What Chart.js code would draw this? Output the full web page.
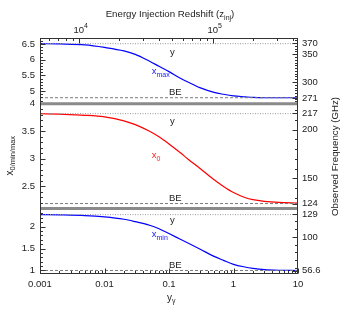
<!DOCTYPE html>
<html><head><meta charset="utf-8">
<script src="https://cdn.jsdelivr.net/npm/chart.js@4"></script>
<style>html,body{margin:0;padding:0;background:#fff}canvas{display:block}</style>
</head><body>
<canvas id="c" width="346" height="314"></canvas>
<script>
// ---- data ----
const yGamma   = [0.001,0.002,0.005,0.01,0.02,0.03,0.05,0.07,0.1,0.15,0.2,0.3,0.5,0.7,1,1.5,2,3,5,10];
const xMaxVals = [6.51,6.50,6.47,6.39,6.28,6.17,5.95,5.79,5.62,5.41,5.28,5.11,4.96,4.90,4.85,4.82,4.80,4.79,4.79,4.79];
const x0Vals   = [3.82,3.81,3.79,3.76,3.69,3.62,3.50,3.40,3.27,3.11,2.99,2.83,2.62,2.50,2.39,2.30,2.26,2.23,2.21,2.20];
const xMinVals = [2.27,2.265,2.25,2.22,2.165,2.11,2.03,1.95,1.84,1.71,1.62,1.49,1.32,1.23,1.14,1.08,1.05,1.02,1.005,1.0];
const yLimit   = [6.51, 3.82, 2.27];   // y-distortion limit: top, middle, bottom panels
const beLimit  = [4.79, 2.19, 1.00];   // Bose-Einstein limit: top, middle, bottom panels
const xTickValues = [0.001, 0.01, 0.1, 1, 10];
const xTickLabels = ['0.001', '0.01', '0.1', '1', '10'];
const zTickValues = [1e4, 1e5];
const zTickExps   = ['4', '5'];
const zRange      = [5133, 432700];
const leftTicksTop = [5, 5.5, 6, 6.5];
const leftTicksMid = [2.5, 3, 3.5, 4];
const leftTicksBot = [1, 1.5, 2];
const freqTicksTop = [271, 300, 350, 370];
const freqTicksMid = [124, 150, 200, 217];
const freqTicksBot = [56.6, 100, 129];
const GHZ_PER_X = 56.7;
const rangeTop = [4.60, 6.69], rangeMid = [2.10, 4.00], rangeBot = [0.92, 2.41];

const FONT = '"Liberation Sans", Arial, sans-serif';
const TXT = '#222';
const toPts = vals => yGamma.map((g, i) => ({x: g, y: vals[i]}));
const hLine = v => [{x: xTickValues[0], y: v}, {x: xTickValues[xTickValues.length-1], y: v}];
const panels = ['yTop', 'yMid', 'yBot'];

const datasets = [];
panels.forEach((p, i) => {
  datasets.push({data: hLine(yLimit[i]), yAxisID: p, borderColor: '#9a9a9a', borderWidth: 1, borderDash: [1, 1.5], pointRadius: 0});
  datasets.push({data: hLine(beLimit[i]), yAxisID: p, borderColor: '#7a7a7a', borderWidth: 1, borderDash: [3, 2], pointRadius: 0});
});
datasets.push({data: toPts(xMaxVals), yAxisID: 'yTop', borderColor: '#0000ff', borderWidth: 1.2, pointRadius: 0, cubicInterpolationMode: 'monotone'});
datasets.push({data: toPts(x0Vals),   yAxisID: 'yMid', borderColor: '#ff0000', borderWidth: 1.2, pointRadius: 0, cubicInterpolationMode: 'monotone'});
datasets.push({data: toPts(xMinVals), yAxisID: 'yBot', borderColor: '#0000ff', borderWidth: 1.2, pointRadius: 0, cubicInterpolationMode: 'monotone'});

// annotations placed in data coordinates of each panel
const notes = [
  {axis: 'yTop', x: 0.113, y: 6.15, align: 'center', color: TXT, parts: [['y', 9.5, 0]]},
  {axis: 'yTop', x: 0.125, y: 4.875, align: 'center', color: TXT, parts: [['BE', 9.5, 0]]},
  {axis: 'yTop', x: 0.054, y: 5.544, align: 'left', color: '#2020ff', parts: [['x', 9.5, 0], ['max', 7, 3]]},
  {axis: 'yMid', x: 0.113, y: 3.632, align: 'center', color: TXT, parts: [['y', 9.5, 0]]},
  {axis: 'yMid', x: 0.125, y: 2.237, align: 'center', color: TXT, parts: [['BE', 9.5, 0]]},
  {axis: 'yMid', x: 0.054, y: 3.016, align: 'left', color: '#ff2020', parts: [['x', 9.5, 0], ['0', 7, 3]]},
  {axis: 'yBot', x: 0.113, y: 2.08, align: 'center', color: TXT, parts: [['y', 9.5, 0]]},
  {axis: 'yBot', x: 0.125, y: 1.06, align: 'center', color: TXT, parts: [['BE', 9.5, 0]]},
  {axis: 'yBot', x: 0.054, y: 1.762, align: 'left', color: '#2020ff', parts: [['x', 9.5, 0], ['min', 7, 3]]}
];

function drawRich(ctx, parts, x, y, align, color, rot) {
  ctx.save();
  ctx.translate(x, y);
  if (rot) ctx.rotate(rot);
  ctx.fillStyle = color; ctx.textAlign = 'left'; ctx.textBaseline = 'alphabetic';
  let total = 0;
  const ws = parts.map(p => { ctx.font = p[1] + 'px ' + FONT; const w = ctx.measureText(p[0]).width; total += w; return w; });
  let cx = align === 'center' ? -total / 2 : 0;
  parts.forEach((p, i) => { ctx.font = p[1] + 'px ' + FONT; ctx.fillText(p[0], cx, p[2]); cx += ws[i]; });
  ctx.restore();
}

const decorate = {
  id: 'decorate',
  afterDatasetsDraw(chart) {
    const {ctx, chartArea: a, scales: s} = chart;
    ctx.save();
    ctx.strokeStyle = '#333'; ctx.lineWidth = 1;
    const L = a.left + 0.5, R = a.right - 0.5, T = a.top + 0.5, B = a.bottom - 0.5;
    const seg = (x1, y1, x2, y2) => { ctx.beginPath(); ctx.moveTo(x1, y1); ctx.lineTo(x2, y2); ctx.stroke(); };
    // left ticks
    panels.forEach(id => {
      const sc = s[id];
      for (let k = Math.ceil(sc.min * 10 - 1e-6); k <= Math.floor(sc.max * 10 + 1e-6); k++) {
        const v = k / 10, py = Math.round(sc.getPixelForValue(v)) + 0.5;
        const major = k % 5 === 0;
        seg(L, py, L + (major ? 5 : 2.5), py);
      }
    });
    // right ticks
    [['rTop', freqTicksTop, 5], ['rMid', freqTicksMid, 10], ['rBot', freqTicksBot, 10]].forEach(([id, major, step]) => {
      const sc = s[id];
      for (let v = Math.ceil(sc.min / step) * step; v <= sc.max; v += step) {
        const py = Math.round(sc.getPixelForValue(v)) + 0.5;
        seg(R, py, R - 2.5, py);
      }
      major.forEach(v => { const py = Math.round(sc.getPixelForValue(v)) + 0.5; seg(R, py, R - 5, py); });
    });
    // bottom log ticks
    const sx = s.x;
    for (let d = -3; d <= 1; d++) for (let m = 1; m <= 9; m++) {
      const v = m * Math.pow(10, d);
      if (v < sx.min * 0.999 || v > sx.max * 1.001) continue;
      const px = Math.round(sx.getPixelForValue(v)) + 0.5;
      seg(px, B, px, B - (m === 1 ? 5 : 2.5));
    }
    // top log ticks
    const sz = s.x2;
    for (let d = 3; d <= 5; d++) for (let m = 1; m <= 9; m++) {
      const v = m * Math.pow(10, d);
      if (v < sz.min || v > sz.max) continue;
      const px = Math.round(sz.getPixelForValue(v)) + 0.5;
      seg(px, T, px, T + (m === 1 ? 5 : 2.5));
    }
    // panel separators
    ctx.strokeStyle = '#8a8a8a'; ctx.lineWidth = 3;
    [s.yTop.bottom, s.yMid.bottom].forEach(y => seg(a.left, y, a.right, y));
    // frame
    ctx.strokeStyle = '#333'; ctx.lineWidth = 1;
    ctx.strokeRect(L, T, R - L, B - T);
    // top tick labels 10^n
    zTickValues.forEach((z, i) => {
      const px = sz.getPixelForValue(z);
      ctx.font = '9.5px ' + FONT; const w = ctx.measureText('10').width;
      drawRich(ctx, [['10', 9.5, 0], [zTickExps[i], 7, -5]], px - w / 2, 32.5, 'left', TXT);
    });
    // titles
    drawRich(ctx, [['Energy Injection Redshift (z', 9.7, 0], ['inj', 7, 2.5], [')', 9.7, 0]], 170, 17, 'center', TXT);
    drawRich(ctx, [['y', 10, 0], ['γ', 7, 2.5]], 167, 300.5, 'left', TXT);
    drawRich(ctx, [['x', 10, 0], ['0/min/max', 7.5, 2.5]], 12.5, 175.5, 'left', TXT, -Math.PI / 2);
    drawRich(ctx, [['Observed Frequency (GHz)', 9.7, 0]], 338, 156.5, 'center', TXT, -Math.PI / 2);
    // annotations
    notes.forEach(n => {
      const px = sx.getPixelForValue(n.x), py = s[n.axis].getPixelForValue(n.y);
      drawRich(ctx, n.parts, px, py, n.align, n.color);
    });
    ctx.restore();
  }
};

const tickFont = {family: FONT, size: 9.5};
const noGrid = {display: false, drawTicks: false, tickLength: 0};
const yAxis = (range, ticks, weight, stackWeight) => ({
  type: 'linear', position: 'left', stack: 'L', stackWeight, weight,
  min: range[0], max: range[1],
  afterBuildTicks: sc => { sc.ticks = ticks.map(v => ({value: v})); },
  afterFit: sc => { sc.width = 40; },
  grid: noGrid, border: {display: false},
  ticks: {font: tickFont, color: TXT, padding: 5, callback: v => String(v)}
});
const rAxis = (range, ticks, weight, stackWeight) => ({
  type: 'linear', position: 'right', stack: 'R', stackWeight, weight,
  min: range[0] * GHZ_PER_X, max: range[1] * GHZ_PER_X,
  afterBuildTicks: sc => { sc.ticks = ticks.map(v => ({value: v})); },
  afterFit: sc => { sc.width = 48; },
  grid: noGrid, border: {display: false},
  ticks: {font: tickFont, color: TXT, padding: 4, callback: v => String(v)}
});

new Chart(document.getElementById('c'), {
  type: 'line',
  data: {datasets},
  options: {
    responsive: false, animation: false, parsing: true,
    layout: {padding: 0},
    plugins: {legend: {display: false}, tooltip: {enabled: false}},
    elements: {line: {fill: false}},
    scales: {
      x: {
        type: 'logarithmic', position: 'bottom', min: xTickValues[0], max: xTickValues[xTickValues.length-1],
        afterBuildTicks: sc => { sc.ticks = xTickValues.map(v => ({value: v})); },
        afterFit: sc => { sc.height = 40; },
        grid: noGrid, border: {display: false},
        ticks: {font: tickFont, color: TXT, padding: 5, autoSkip: false, maxRotation: 0,
                callback: (v, i) => xTickLabels[i]}
      },
      x2: {
        type: 'logarithmic', position: 'top', min: zRange[0], max: zRange[1],
        afterFit: sc => { sc.height = 38; },
        grid: noGrid, border: {display: false}, ticks: {display: false}
      },
      yTop: yAxis(rangeTop, leftTicksTop, 3, 65.7),
      yMid: yAxis(rangeMid, leftTicksMid, 2, 104.8),
      yBot: yAxis(rangeBot, leftTicksBot, 1, 65.5),
      rTop: rAxis(rangeTop, freqTicksTop, 1, 65.7),
      rMid: rAxis(rangeMid, freqTicksMid, 2, 104.8),
      rBot: rAxis(rangeBot, freqTicksBot, 3, 65.5)
    }
  },
  plugins: [decorate]
});
</script>
</body></html>
